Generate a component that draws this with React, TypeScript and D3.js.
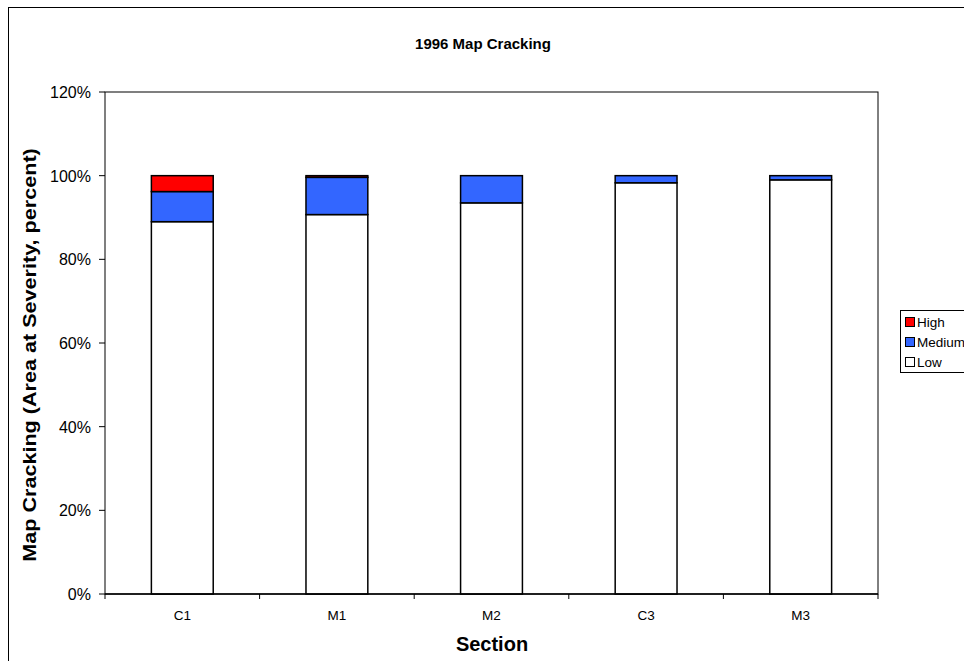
import React from "react";
import * as d3 from "d3";

const sections = ["C1", "M1", "M2", "C3", "M3"];
const lowValues = [89.0, 90.7, 93.5, 98.3, 99.0];
const mediumValues = [7.2, 8.9, 6.5, 1.7, 1.0];
const highValues = [3.8, 0.4, 0, 0, 0];
const yTicks = [0, 20, 40, 60, 80, 100, 120];
const severities = ["Low", "Medium", "High"];
const severityColors: Record<string, string> = { Low: "#ffffff", Medium: "#3366ff", High: "#ff0000" };

const W = 964;
const H = 661;
const plot = { left: 105, right: 878, top: 92, bottom: 594 };
const font = "'Liberation Sans', Arial, sans-serif";

export default function App() {
  const x = d3.scaleBand<string>().domain(sections).range([plot.left, plot.right]).paddingInner(0.6).paddingOuter(0.3);
  const band = d3.scaleBand<string>().domain(sections).range([plot.left, plot.right]);
  const y = d3.scaleLinear().domain([0, 120]).range([plot.bottom, plot.top]);

  const rows = sections.map((s, i) => ({ section: s, Low: lowValues[i], Medium: mediumValues[i], High: highValues[i] }));
  const stacked = d3.stack<any>().keys(severities)(rows);

  const legendItems = ["High", "Medium", "Low"];

  return (
    <svg width={W} height={H} style={{ position: "absolute", left: 0, top: 0, display: "block" }} fontFamily={font}>
      <rect x={0} y={0} width={W} height={H} fill="#fff" />
      <rect x={8.5} y={7.5} width={W + 20} height={H + 20} fill="none" stroke="#000" strokeWidth={1} />
      <text x={483} y={49} textAnchor="middle" fontSize={15} fontWeight="bold">1996 Map Cracking</text>

      {/* plot frame */}
      <rect x={plot.left} y={plot.top} width={plot.right - plot.left} height={plot.bottom - plot.top} fill="none" stroke="#000" strokeWidth={1} />

      {/* y axis ticks and labels */}
      {yTicks.map((t) => (
        <g key={t}>
          <line x1={plot.left - 6} x2={plot.left} y1={y(t)} y2={y(t)} stroke="#000" />
          <text x={plot.left - 14} y={y(t) + 6} textAnchor="end" fontSize={16}>{t}%</text>
        </g>
      ))}

      {/* x axis ticks at band boundaries */}
      {sections.map((s) => (
        <line key={s} x1={band(s)!} x2={band(s)!} y1={plot.bottom} y2={plot.bottom + 5} stroke="#000" />
      ))}
      <line x1={plot.right} x2={plot.right} y1={plot.bottom} y2={plot.bottom + 5} stroke="#000" />
      {sections.map((s) => (
        <text key={s} x={band(s)! + band.bandwidth() / 2} y={plot.bottom + 26} textAnchor="middle" fontSize={13.5}>{s}</text>
      ))}

      {/* stacked bars */}
      {stacked.map((layer) =>
        layer.map((d, i) => {
          const h = y(d[0]) - y(d[1]);
          if (h <= 0) return null;
          return (
            <rect
              key={layer.key + i}
              x={x(sections[i])!}
              y={y(d[1])}
              width={x.bandwidth()}
              height={h}
              fill={severityColors[layer.key]}
              stroke="#000"
              strokeWidth={1.5}
            />
          );
        })
      )}

      <line x1={plot.left} x2={plot.right} y1={plot.bottom} y2={plot.bottom} stroke="#000" strokeWidth={1.5} />

      {/* axis titles */}
      <text x={492} y={651} textAnchor="middle" fontSize={20} fontWeight="bold">Section</text>
      <text transform={`translate(36,355) rotate(-90) scale(1.2,1)`} textAnchor="middle" fontSize={18} fontWeight="bold">
        Map Cracking (Area at Severity, percent)
      </text>

      {/* legend */}
      <rect x={900.5} y={310.5} width={80} height={62} fill="#fff" stroke="#000" />
      {legendItems.map((k, i) => (
        <g key={k}>
          <rect x={905.5} y={317.5 + i * 20} width={9} height={9} fill={severityColors[k]} stroke="#000" />
          <text x={917} y={327 + i * 20} fontSize={13.5}>{k}</text>
        </g>
      ))}
    </svg>
  );
}
